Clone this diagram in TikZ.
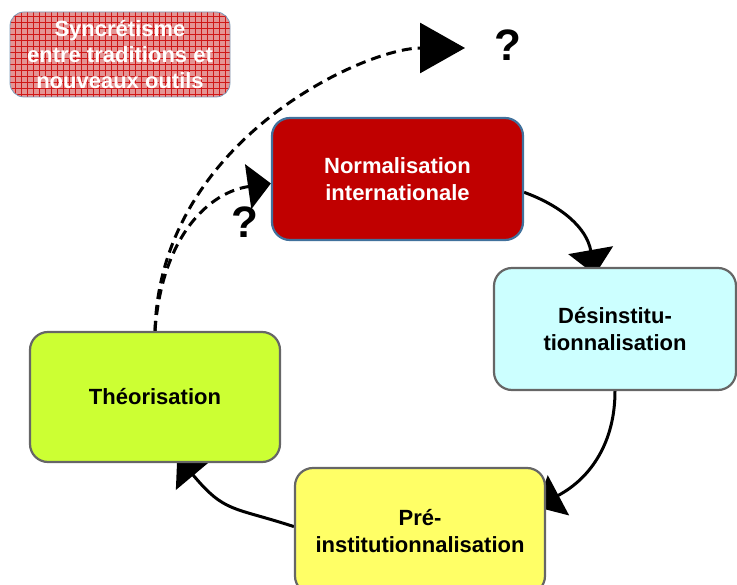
\documentclass[tikz,border=0pt]{standalone}
\usepackage{fontspec}
\setmainfont{Liberation Sans}
\usepackage{tikz}
\usetikzlibrary{arrows.meta,backgrounds}

\definecolor{normred}{HTML}{C00000}
\definecolor{normedge}{HTML}{41719C}
\definecolor{descyan}{HTML}{CCFFFF}
\definecolor{theolime}{HTML}{CCFF33}
\definecolor{preyellow}{HTML}{FFFF66}
\definecolor{boxgray}{HTML}{666666}
\definecolor{syncpink}{HTML}{E49494}
\definecolor{syncgrid}{HTML}{D01818}

\begin{document}
\begin{tikzpicture}[x=1pt, y=-1pt,
  every node/.style={
    rectangle, rounded corners=18pt,
    align=center,
    font=\bfseries\fontsize{22}{27}\selectfont
  },
  etape/.style={draw=boxgray, line width=2.2pt, minimum width=250pt, minimum height=124pt},
  synchro/.style={
    rounded corners=14pt, fill=syncpink, draw=normedge!70, line width=0.8pt,
    text=white, minimum width=220pt, minimum height=85pt,
    font=\bfseries\fontsize{22}{26}\selectfont,
    path picture={\draw[syncgrid, line width=0.35pt, step=6pt]
      (path picture bounding box.south west) grid (path picture bounding box.north east);}
  },
  fleche/.style={line width=3pt, -{Triangle[length=25pt,width=45pt]}},
  tiret/.style={line width=3pt, dash pattern=on 10pt off 6pt},
  question/.style={rectangle, font=\bfseries\fontsize{44}{44}\selectfont}
]
\useasboundingbox (0,0) rectangle (737,585);
\clip (0,0) rectangle (737,585);

% les etapes du cycle
\node[etape, fill=normred, draw=normedge, text=white, minimum width=251pt, minimum height=122pt] (norm) at (397.5,179) {Normalisation\\internationale};
\node[etape, fill=descyan, minimum width=242pt, minimum height=122pt] (des) at (615,329) {Désinstitu-\\tionnalisation};
\node[etape, fill=preyellow, minimum height=126pt] (pre) at (420,531) {Pré-\\institutionnalisation};
\node[etape, fill=theolime, minimum height=130pt] (theo) at (155,397) {Théorisation};
\node[synchro] (sync) at (120,54.5) {Syncrétisme\\entre traditions et\\nouveaux outils};

\node[question] (q1) at (508,45) {?};
\node[question] (q2) at (245,222) {?};
\coordinate (haut) at (465,48);

% fleches sous les boites
\begin{scope}[on background layer]
\draw[fleche, shorten >=-8pt] (norm.-6) to[out=-20,in=100] (des.109);
\draw[fleche, shorten >=-11pt] (des.south) to[out=-90,in=28] (pre.13);
\draw[fleche, shorten >=-9pt] (pre.178) to[out=162,in=-50,looseness=1.3] (theo.-67);
\draw[tiret, -{Triangle[length=45pt,width=50pt]}] (theo.north) .. controls (160,140) and (365,48) .. (haut);
\draw[tiret, -{Triangle[length=23pt,width=45pt]}] (theo.north) .. controls (162,235) and (210,192) .. (norm.182);
\end{scope}
\end{tikzpicture}
\end{document}
